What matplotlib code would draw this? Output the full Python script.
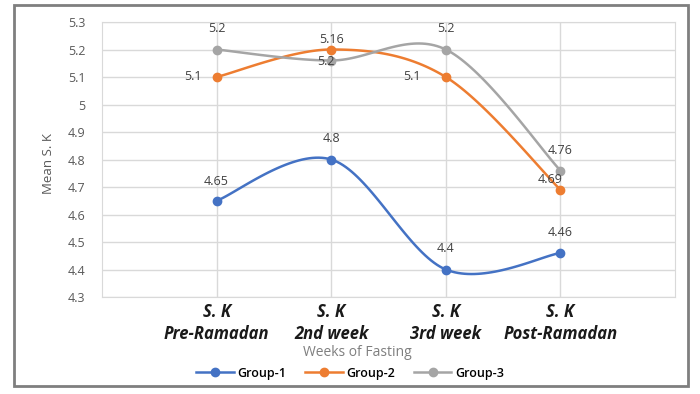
import numpy as np
import matplotlib
matplotlib.use("Agg")
import matplotlib.pyplot as plt
from matplotlib.patches import Rectangle
from matplotlib.lines import Line2D

plt.rcParams['font.family'] = ['Open Sans', 'DejaVu Sans']

# data
weeks = ["S. K\nPre-Ramadan", "S. K\n2nd week", "S. K\n3rd week", "S. K\nPost-Ramadan"]
group1 = [4.65, 4.8, 4.4, 4.46]
group2 = [5.1, 5.2, 5.1, 4.69]
group3 = [5.2, 5.16, 5.2, 4.76]
labels1 = ["4.65", "4.8", "4.4", "4.46"]
labels2 = ["5.1", "5.16", "5.1", "4.69"]
labels3 = ["5.2", "5.2", "5.2", "4.76"]

colors = ['#4472C4', '#ED7D31', '#A5A5A5']
names = ['Group-1', 'Group-2', 'Group-3']


def smooth(y, n=40):
    # excel-ish smoothed line (catmull-rom bezier)
    y = np.asarray(y, dtype=float)
    x = np.arange(len(y), dtype=float)
    px = np.concatenate([[x[0]], x, [x[-1]]])
    py = np.concatenate([[y[0]], y, [y[-1]]])
    xs, ys = [], []
    t = np.linspace(0, 1, n)
    for i in range(len(y) - 1):
        p0 = np.array([px[i + 1], py[i + 1]])
        p3 = np.array([px[i + 2], py[i + 2]])
        c1 = p0 + (np.array([px[i + 2], py[i + 2]]) - np.array([px[i], py[i]])) / 6
        c2 = p3 - (np.array([px[i + 3], py[i + 3]]) - np.array([px[i + 1], py[i + 1]])) / 6
        b = ((1 - t) ** 3)[:, None] * p0 + (3 * (1 - t) ** 2 * t)[:, None] * c1 \
            + (3 * (1 - t) * t ** 2)[:, None] * c2 + (t ** 3)[:, None] * p3
        xs.extend(b[:, 0])
        ys.extend(b[:, 1])
    return np.array(xs), np.array(ys)


fig = plt.figure(figsize=(7, 3.94), dpi=100)
ax = fig.add_axes([102 / 700, 1 - 297 / 394, (675 - 102) / 700, (297 - 22) / 394])

series = [group1, group2, group3]
for vals, c in zip(series, colors):
    sx, sy = smooth(vals)
    ax.plot(sx, sy, color=c, lw=1.8, zorder=3)
    ax.plot(range(len(vals)), vals, 'o', color=c, ms=6, zorder=4)

# data labels (offsets in pixels)
offs1 = [(0, 19), (0, 21), (0, 21), (0, 20)]
offs2 = [(-24, 0), (0, 10), (-34, 0), (-10, 10)]
offs3 = [(0, 21), (-5, -1), (0, 21), (0, 20)]
for vals, labs, offs in [(group1, labels1, offs1), (group2, labels2, offs2), (group3, labels3, offs3)]:
    for i, (v, l, o) in enumerate(zip(vals, labs, offs)):
        ax.annotate(l, (i, v), xytext=o, textcoords='offset pixels',
                    ha='center', va='center', fontsize=9, color='#404040', zorder=5)

ax.set_xlim(-1, 4)
ax.set_ylim(4.3, 5.3)
ax.set_yticks(np.arange(4.3, 5.31, 0.1))
ax.set_yticklabels(["4.3", "4.4", "4.5", "4.6", "4.7", "4.8", "4.9", "5", "5.1", "5.2", "5.3"])
ax.set_xticks(range(len(weeks)))
ax.set_xticklabels(weeks, fontsize=12, fontweight='bold', fontstyle='italic',
                   color='#1a1a1a', linespacing=1.35)
ax.tick_params(axis='y', length=0, pad=12, labelsize=9, labelcolor='#595959')
ax.tick_params(axis='x', length=0, pad=4)
ax.grid(True, color='#d9d9d9', lw=1)
ax.set_axisbelow(True)
for s in ax.spines.values():
    s.set_color('#d9d9d9')

fig.text(48 / 700, 1 - 163 / 394, "Mean S. K", rotation=90, ha='center', va='center',
         fontsize=9.5, color='#595959')
fig.text(357 / 700, 1 - 352 / 394, "Weeks of Fasting", ha='center', va='center',
         fontsize=10, color='#7f7f7f')

handles = [Line2D([0], [0], color=c, lw=1.8, marker='o', ms=6) for c in colors]
fig.legend(handles, names, loc='center', bbox_to_anchor=(350 / 700, 1 - 373 / 394), ncol=3,
           frameon=False, handlelength=3, columnspacing=1.5, handletextpad=0.3,
           prop={'weight': 'semibold', 'size': 9})

fig.patches.append(Rectangle((14 / 700, 1 - 386 / 394), (688 - 14) / 700, (386 - 5) / 394,
                             transform=fig.transFigure, fill=False, ec='#7f7f7f', lw=2))

fig.savefig("out.png", dpi=100)
